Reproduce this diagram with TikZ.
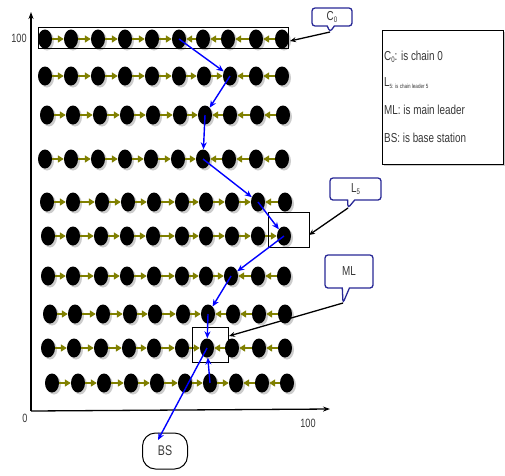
\documentclass[tikz,border=0pt]{standalone}
\usepackage{fontspec}
\setmainfont[FakeStretch=0.76]{Liberation Sans}
\usetikzlibrary{shapes.geometric,shapes.callouts,shadows,arrows.meta}
\definecolor{cblue}{RGB}{40,40,150}
\definecolor{linkolive}{RGB}{128,128,0}
\definecolor{txt}{RGB}{55,55,55}
\begin{document}
\begin{tikzpicture}[x=1pt,y=-1pt,
  sensor/.style={ellipse, fill=black, minimum width=14pt, minimum height=19pt, inner sep=0pt,
    drop shadow={shadow xshift=2pt, shadow yshift=-2pt, opacity=0.4}},
  link/.style={draw=linkolive, line width=2.5pt, -{Triangle[length=6pt,width=7pt]}},
  flow/.style={draw=blue, line width=1.4pt, -{Stealth[length=7pt,width=6pt]}},
  frame/.style={draw=black, line width=1pt, inner sep=0pt},
  tag/.style={rectangle callout, draw=cblue, line width=1.3pt, rounded corners=3pt, fill=white,
    inner sep=0pt, text=txt, font=\fontsize{13}{13}\selectfont},
  pointer/.style={draw=black, line width=1.3pt, -{Stealth[length=6pt,width=5pt]}},
  axis/.style={draw=black, line width=1.3pt, -{Stealth[length=7pt,width=5pt]}},
  lbl/.style={text=txt, font=\fontsize{13}{13}\selectfont, inner sep=0pt},
]
\useasboundingbox (0,0) rectangle (505,475);

% axes
\coordinate (origin) at (31,411);
\coordinate (ytop) at (31,12);
\coordinate (xend) at (330,409);
\draw[axis] (origin) -- (ytop);
\draw[axis] (origin) -- (xend);
\node[lbl, font=\fontsize{12}{12}\selectfont] (y100) at (19,38) {100};
\node[lbl, font=\fontsize{12}{12}\selectfont] (zero) at (25,418) {0};
\node[lbl, font=\fontsize{12}{12}\selectfont] (x100) at (308,423) {100};

% legend
\node[frame, fill=white, minimum width=121pt, minimum height=134pt,
  drop shadow={shadow xshift=2pt, shadow yshift=-2pt, opacity=0.4}] (legend) at (442.5,97) {};
\node[lbl, anchor=west] (lg1) at (384,57) {C\raisebox{-1.5pt}{\fontsize{8}{8}\selectfont 0}: is chain 0};
\node[lbl, anchor=west] (lg2) at (384,83) {L\raisebox{-2pt}{\fontsize{6}{6}\selectfont 5: is chain leader 5}};
\node[lbl, anchor=west] (lg3) at (384,110) {ML: is main leader};
\node[lbl, anchor=west] (lg4) at (384,138) {BS: is base station};

% sensor rows
\foreach \r/\y/\xs/\L in {
  1/39/{45,71,98,125,152,179,203,228,256,282}/6,
  2/76/{45,71,98,125,152,179,204,230,256,282}/8,
  3/115/{47,73,100,127,153,180,205,230,257,283}/7,
  4/159/{45,71,98,125,151,178,203,229,256,282}/7,
  5/202/{47,73,102,128,154,182,206,232,258,285}/9,
  6/236/{48,73,101,127,153,182,206,232,258,284}/10,
  7/276/{48,73,101,127,154,182,206,231,258,284}/8,
  8/314/{50,75,103,130,155,183,208,233,259,285}/7,
  9/348/{48,74,101,129,154,182,207,232,259,285}/7,
  10/383/{52,78,104,131,157,185,210,236,262,287}/8}{
  \foreach \x [count=\i] in \xs {
    \node[sensor] (n\r-\i) at (\x,\y) {};
  }
  \foreach \i in {1,...,9}{
    \pgfmathtruncatemacro\j{\i+1}
    \ifnum\j>\L\relax
      \draw[link] (n\r-\j) -- (n\r-\i);
    \else
      \draw[link] (n\r-\i) -- (n\r-\j);
    \fi
  }
}

% frames
\node[frame, minimum width=250pt, minimum height=21pt] (c0box) at (163,37.5) {};
\node[frame, minimum width=41pt, minimum height=35pt] (l5box) at (288.5,229.5) {};
\node[frame, minimum width=36pt, minimum height=35pt] (mlbox) at (210,344.5) {};

% base station
\node[draw, line width=1pt, rounded corners=13pt, minimum width=45pt, minimum height=36pt,
  lbl, font=\fontsize{14}{14}\selectfont] (bs) at (165,451) {BS};
\coordinate (bstip) at (158,440);

% blue flow
\draw[flow] (n1-6.center) -- (n2-8);
\draw[flow] (n2-8.center) -- (n3-7);
\draw[flow] (n3-7.center) -- (n4-7);
\draw[flow] (n4-7.center) -- (n5-9);
\draw[flow] (n5-9.center) -- (n6-10);
\draw[flow] (n6-10.center) -- (n7-8);
\draw[flow] (n7-8.center) -- (n8-7);
\draw[flow] (n8-7.center) -- (n9-7);
\draw[flow] (n10-7.center) -- (n9-7);
\draw[flow] (n9-7.center) -- (bstip);

% callouts
\coordinate (c0p) at (330,32);
\coordinate (l5p) at (348,208);
\coordinate (mlp) at (343,303);
\node[tag, minimum width=40pt, minimum height=18pt, callout absolute pointer={(c0p)}] (c0tag) at (332,17)
  {C\raisebox{-1.5pt}{\fontsize{8}{8}\selectfont 0}};
\node[tag, minimum width=51pt, minimum height=22pt, callout absolute pointer={(l5p)}] (l5tag) at (355.5,189)
  {L\raisebox{-1.5pt}{\fontsize{8}{8}\selectfont 5}};
\node[tag, minimum width=48pt, minimum height=33pt, callout absolute pointer={(mlp)}] (mltag) at (349,271.5)
  {ML};
\coordinate (c0t) at (290,41);
\coordinate (l5t) at (309,235);
\coordinate (mlt) at (229,336);
\draw[pointer] (c0p) -- (c0t);
\draw[pointer] (l5p) -- (l5t);
\draw[pointer] (mlp) -- (mlt);
\end{tikzpicture}
\end{document}
